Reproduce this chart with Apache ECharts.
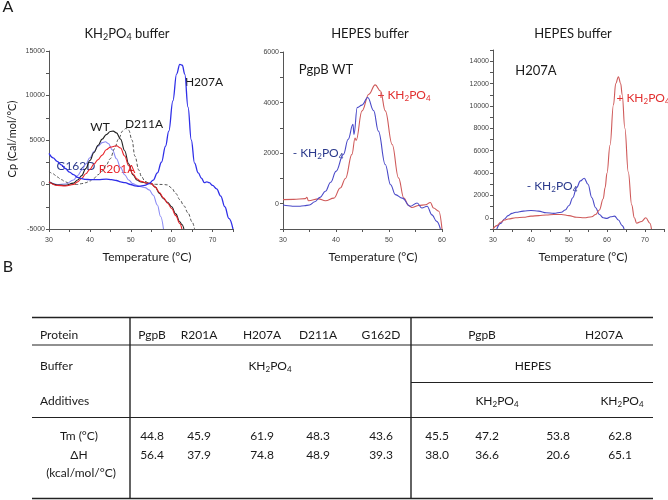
<!DOCTYPE html>
<html><head><meta charset="utf-8">
<script src="https://cdn.jsdelivr.net/npm/echarts@6/dist/echarts.min.js"></script>
<style>html,body{margin:0;padding:0;background:#fff}#c{width:668px;height:500px}</style>
</head><body><div id="c"></div>
<script>
// ---------- Panel 1: KH2PO4 buffer ----------
const wtT   = [30,32,34,36,37,38,39,40,41,42,43,44,45,45.7,46.5,47.5,48.5,49.5,50.5,51.5,52.5,54,55,56,57,58,59,60,61,62,62.5,63];
const wtCp  = [300,-50,-100,150,500,1000,1800,2700,3600,4400,5100,5600,5950,6000,5800,5100,3800,2300,1100,500,280,150,100,-300,-1000,-1600,-2000,-2500,-3300,-4200,-4500,-5000];
const r201T = [30,32,34,36,37,38,39,40,41,42,43,44,45,46.5,47.5,48.5,49.5,50.5,51.5,52.5,54,55,56,57,58,59,60,61,62,62.5];
const r201Cp= [300,-100,-150,0,300,700,1200,1700,2300,2800,3300,3900,4200,4350,4100,3200,2100,1200,650,350,150,100,-300,-900,-1500,-2100,-2700,-3500,-4400,-5000];
const g162T = [30,32,34,36,37,38,39,40,41,42,43,43.8,44.5,45.5,46.5,47.5,48.5,49.5,50.5,51.5,52.5,53.5,54.5,55.5,56.5,57.3,58];
const g162Cp= [300,0,50,500,1000,1600,2300,3000,3700,4300,4700,4800,4600,3900,2900,1900,1100,500,100,-100,-250,-350,-600,-1200,-2300,-3600,-5000];
const d211T = [30,31,32,33,34,35,36,37,38,39,40,41,42,43,44,45,46,47,48,48.8,49.5,50.3,51,52,52.6,53.5,54.5,56,58,59,60,61,62,63,64,65,65.6];
const d211Cp= [1500,1200,850,550,300,100,0,0,100,200,400,700,1100,1500,2200,2900,4000,5100,6000,6300,6100,5000,3200,1600,900,350,150,20,0,-50,-400,-1000,-1700,-2400,-3200,-4200,-5000];
const h207T = [30,31,32,33,34,35,36,37,38,39,40,42,44,45.3,46.5,47.5,48.6,50,51,52,53.4,54.5,55.5,56.5,57.5,58.5,59.3,60.3,61.2,62,62.6,63.2,64,64.8,65.6,66.5,67.3,68,68.6,69.2,70,71,72,73,74,75];
const h207Cp= [3500,3000,2600,2200,1800,1400,1100,800,650,570,550,550,600,550,450,300,200,0,-150,-200,-100,100,500,1300,2500,4300,6000,9400,12400,13500,13400,12400,8700,5000,2400,1300,700,200,300,200,-100,-500,-1300,-2500,-3800,-5000];

// ---------- Panel 2: HEPES buffer, PgpB WT ----------
const wtMinusT = [30,31,32,33,34,35,36,37,38,39,40,41.4,42.3,43.2,43.4,44,44.9,46,47.1,48,49.3,50.3,51.2,52.5,54,55.3,56.2,57.2,58.1,59,59.7];
const wtMinusCp= [-50,-80,-100,-100,-80,-50,80,250,490,850,1280,1950,2550,3140,2740,3800,3900,4200,3680,2870,1550,750,360,220,-100,30,-170,-100,-440,-700,-1000];
const wtPlusT  = [30,32,34.2,34.5,34.8,36.7,38,39.6,40.8,41.8,43,43.6,43.8,44.9,46.2,47.4,48.4,49.3,50.6,51.8,52.8,53.7,54.3,55.6,56.9,57.8,58.4,59.4,60];
const wtPlusCp = [160,170,200,250,120,190,120,220,620,1000,1950,2600,2500,3670,4330,4700,4460,3670,2340,1020,225,-70,-150,-70,-40,50,-170,-300,-1000];

// ---------- Panel 3: HEPES buffer, H207A ----------
const hMinusT = [31,32,33,34,35,36,38,40,42,44,46,48,49,50,51,52,53,54,55,56,57,58,59,60,61,62,63,64,64.5];
const hMinusCp= [-1000,-500,-100,200,400,500,600,650,600,450,400,500,700,1100,1800,2700,3300,3540,3000,1800,900,300,0,-50,100,150,-200,-700,-1000];
const hPlusT  = [30,31,32,33,34,36,38,40,42,44,46,48,50,52,54,56,57,58,59,59.5,60,60.8,61.7,62.3,63,63.6,64,64.7,65.6,66.5,67.2,67.8,69.1,70.2,71.3,71.7];
const hPlusCp = [-1000,-700,-400,-200,-100,0,50,150,200,250,300,300,200,50,0,100,300,700,1700,2700,4000,6500,10100,12000,12600,12000,11000,8000,4100,1160,0,-480,-330,0,-480,-1000];

// ---------- Table ----------
const kProteins = ['PgpB','R201A','H207A','D211A','G162D'];
const kTm = [44.8,45.9,61.9,48.3,43.6];
const kDH = [56.4,37.9,74.8,48.9,39.3];
const hProteins = ['PgpB','H207A'];
const hTm = [45.5,47.2,53.8,62.8];
const hDH = [38.0,36.6,20.6,65.1];
const rowLabels = ['Protein','Buffer','Additives'];

const FONT = 'Lato, "Open Sans", sans-serif';
const zip = (a,b) => a.map((t,i)=>[t,b[i]]);

function xAx(g,min,max){
  return {type:'value',gridIndex:g,min:min,max:max,interval:5,
    axisLine:{onZero:false,lineStyle:{color:'#555',width:1}},
    axisTick:{length:3,lineStyle:{color:'#555'}},
    splitLine:{show:false},
    axisLabel:{fontSize:7,color:'#444',margin:8,fontFamily:'"Liberation Sans", Arial',
      formatter:v=> v%10===0 ? String(v) : ''}};
}
function yAx(g,min,max,interval,step){
  return {type:'value',gridIndex:g,min:min,max:max,interval:interval,
    axisLine:{show:true,onZero:false,lineStyle:{color:'#555',width:1}},
    axisTick:{show:true,length:3,lineStyle:{color:'#555'}},
    splitLine:{show:false},
    axisLabel:{fontSize:7,color:'#444',margin:4,fontFamily:'"Liberation Sans", Arial',
      formatter:v=> v%step===0 ? String(v) : ''}};
}
function ser(g,data,color,opt){
  opt = opt||{};
  return {type:'line',xAxisIndex:g,yAxisIndex:g,data:data,showSymbol:false,symbol:'none',
    smooth:0.4,smoothMonotone:'x',silent:true,animation:false,
    lineStyle:{color:color,width:opt.w||1.1,type:opt.type||'solid'}};
}
function T(text,x,y,o){
  o=o||{};
  const size=o.size||12, color=o.color||'#1a1a1a';
  return {type:'text',x:x,y:y,rotation:o.rot||0,silent:true,
    style:{text:text,fill:color,fontSize:size,fontFamily:FONT,
      align:o.align||'center',verticalAlign:'middle',lineHeight:size+2,
      rich:{
        m:{fontSize:size,fill:color,fontFamily:FONT,lineHeight:size+2,verticalAlign:'middle'},
        s:{fontSize:Math.round(size*0.66),fill:color,fontFamily:FONT,lineHeight:1,verticalAlign:'bottom',padding:[0,0,0,0]}
      }}};
}
function L(x1,y1,x2,y2,w){
  return {type:'line',silent:true,shape:{x1:x1,y1:y1,x2:x2,y2:y2},style:{stroke:'#222',lineWidth:w||1.2}};
}
const KH = '{m|KH}{s|2}{m|PO}{s|4}';

const graphics = [
  T('A',8,7,{size:16,align:'center'}),
  T('B',8,267,{size:16,align:'center'}),
  // panel titles
  T(KH+'{m| buffer}',127,34,{size:13}),
  T('HEPES buffer',370,34,{size:13}),
  T('HEPES buffer',573,34,{size:13}),
  // axis names
  T('Cp (Cal/mol/°C)',12,139,{size:11,rot:Math.PI/2}),
  T('Temperature (°C)',147,257,{size:12}),
  T('Temperature (°C)',373,257,{size:12}),
  T('Temperature (°C)',583,257,{size:12}),
  // panel 1 labels
  T('WT',100,127,{size:12}),
  T('D211A',144,124,{size:12}),
  T('H207A',204,82,{size:12}),
  T('G162D',76,166,{size:12,color:'#2b3a8c'}),
  T('R201A',117,169,{size:12,color:'#e8232a'}),
  // panel 2 labels
  T('PgpB WT',326,70,{size:13}),
  T('{m|+ }'+KH,404,95,{size:12,color:'#e23030'}),
  T('{m|- }'+KH,318,153,{size:12,color:'#2b3a8c'}),
  // panel 3 labels
  T('H207A',536,71,{size:13}),
  T('{m|+ }'+KH,643,98,{size:12,color:'#e23030'}),
  T('{m|- }'+KH,552,186,{size:12,color:'#2b3a8c'}),
  // table lines
  L(32,317.5,653,317.5,1.4),
  L(32,345,653,345),
  L(411,382.5,653,382.5),
  L(32,417.5,653,417.5),
  L(32,498.5,653,498.5,1.4),
  L(130,317.5,130,498.5,1.4),
  L(411,317.5,411,498.5,1.4)
];
// table text
const rowY = [335,366,401];
rowLabels.forEach((r,i)=>graphics.push(T(r,40,rowY[i],{align:'left'})));
graphics.push(T('Tm (°C)',79,436));
graphics.push(T('ΔH',79,455));
graphics.push(T('(kcal/mol/°C)',81,473));
const kX = [152,199,262,318,381];
kProteins.forEach((p,i)=>graphics.push(T(p,kX[i],335)));
kTm.forEach((v,i)=>graphics.push(T(v.toFixed(1),kX[i],436)));
kDH.forEach((v,i)=>graphics.push(T(v.toFixed(1),kX[i],455)));
graphics.push(T(KH,270,366));
const hHeadX = [482,604];
hProteins.forEach((p,i)=>graphics.push(T(p,hHeadX[i],335)));
graphics.push(T('HEPES',533,366));
graphics.push(T(KH,497,401));
graphics.push(T(KH,622,401));
const hX = [437,487,558,620];
hTm.forEach((v,i)=>graphics.push(T(v.toFixed(1),hX[i],436)));
hDH.forEach((v,i)=>graphics.push(T(v.toFixed(1),hX[i],455)));

const option = {
  animation:false,
  grid:[
    {left:49,top:51,width:184,height:178},
    {left:283,top:52,width:159,height:177},
    {left:493,top:50,width:171,height:179}
  ],
  xAxis:[xAx(0,30,75),xAx(1,30,60),xAx(2,30,75)],
  yAxis:[yAx(0,-5000,15000,2500,5000),yAx(1,-1000,6000,1000,2000),yAx(2,-1000,15000,1000,2000)],
  series:[
    ser(0,zip(g162T,g162Cp),'#8c8cf5'),
    ser(0,zip(d211T,d211Cp),'#555555',{type:[3,2],w:1}),
    ser(0,zip(wtT,wtCp),'#222222'),
    ser(0,zip(r201T,r201Cp),'#e8232a'),
    ser(0,zip(h207T,h207Cp),'#2f2fe8',{w:1.3}),
    ser(1,zip(wtPlusT,wtPlusCp),'#cf5a5a'),
    ser(1,zip(wtMinusT,wtMinusCp),'#4a4ac8'),
    ser(2,zip(hMinusT,hMinusCp),'#4a4ac8'),
    ser(2,zip(hPlusT,hPlusCp),'#cf5a5a')
  ],
  graphic:graphics
};
const chart = echarts.init(document.getElementById('c'),null,{renderer:'canvas'});
chart.setOption(option);
</script>
</body></html>
